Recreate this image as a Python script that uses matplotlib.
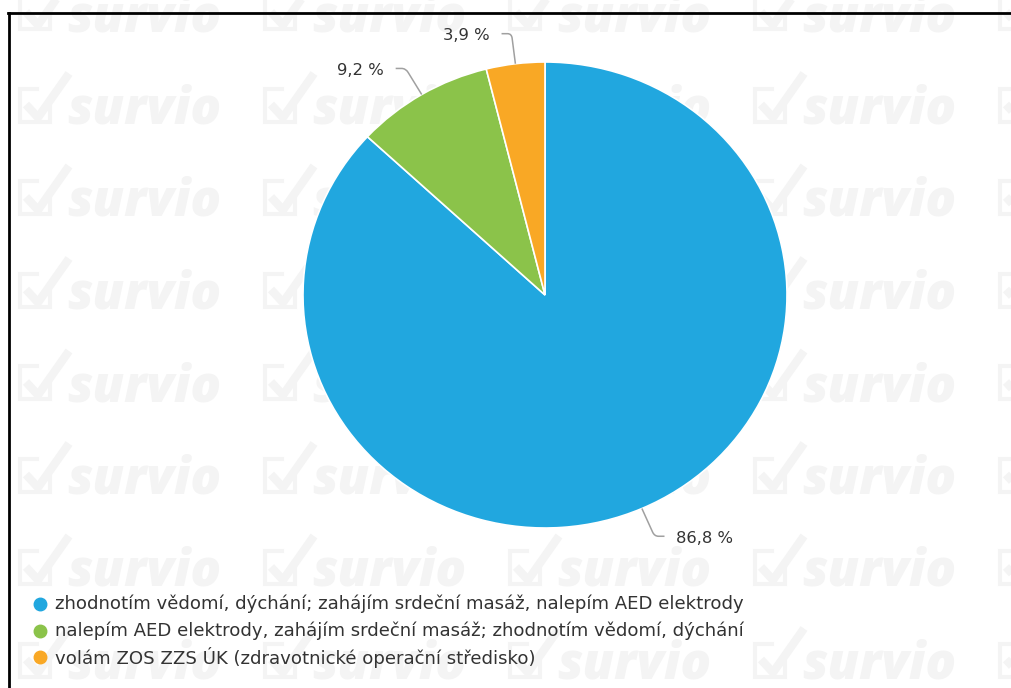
import matplotlib
matplotlib.use("Agg")
import numpy as np
import matplotlib.pyplot as plt
from matplotlib.path import Path
from matplotlib.patches import PathPatch
from matplotlib.lines import Line2D

# Survey answers and their shares (%)
categories = [
    "zhodnotím vědomí, dýchání; zahájím srdeční masáž, nalepím AED elektrody",
    "nalepím AED elektrody, zahájím srdeční masáž; zhodnotím vědomí, dýchání",
    "volám ZOS ZZS ÚK (zdravotnické operační středisko)",
]
shares = [86.8, 9.2, 3.9]
colors = ["#21a7df", "#8bc34a", "#f9a825"]

W, H = 1011, 688
fig = plt.figure(figsize=(W / 100, H / 100), dpi=100)
fig.patch.set_facecolor("white")


def fx(x):
    return x / W


def fy(y):
    return 1 - y / H


# Tiled "survio" watermark behind everything
wm = "#f4f4f4"
for row in range(8):
    base = 31 + 92.5 * row
    for col in range(5):
        x0 = 67 + 245 * col
        fig.text(fx(x0), fy(base), "survio", fontsize=36.5, fontstyle="italic",
                 fontweight="heavy", family="Open Sans", color=wm,
                 ha="left", va="baseline", zorder=-5)
        box_x = [x0 - 30, x0 - 47, x0 - 47, x0 - 17, x0 - 17]
        box_y = [base - 35, base - 35, base - 2, base - 2, base - 18]
        fig.add_artist(Line2D([fx(v) for v in box_x], [fy(v) for v in box_y],
                              color=wm, lw=3, transform=fig.transFigure,
                              zorder=-5, solid_joinstyle="miter"))
        chk_x = [x0 - 41, x0 - 29, x0 + 2]
        chk_y = [base - 19, base - 6, base - 50]
        fig.add_artist(Line2D([fx(v) for v in chk_x], [fy(v) for v in chk_y],
                              color=wm, lw=6, transform=fig.transFigure,
                              zorder=-5, solid_capstyle="butt"))

# Frame lines (top and left)
fig.add_artist(Line2D([fx(8), 1], [fy(12.5), fy(12.5)], color="black", lw=2,
                      transform=fig.transFigure))
fig.add_artist(Line2D([fx(8.5), fx(8.5)], [0, fy(12.5)], color="black", lw=2,
                      transform=fig.transFigure))

# Pie
left, right, top, bottom = 303, 787, 62, 528
ax = fig.add_axes([fx(left), fy(bottom), (right - left) / W, (bottom - top) / H])
ax.patch.set_visible(False)
wedges, _ = ax.pie(shares, colors=colors, startangle=90, counterclock=False,
                   wedgeprops=dict(edgecolor="white", linewidth=1.2))
ax.set_aspect("auto")
ax.set_xlim(-1, 1)
ax.set_ylim(-1, 1)
ax.axis("off")

# Data labels with curved connectors
px_x = (right - left) / 2.0
for w, v in zip(wedges, shares):
    mid = np.deg2rad((w.theta1 + w.theta2) / 2.0)
    c, s = np.cos(mid), np.sin(mid)
    sign = 1 if c >= 0 else -1
    p0 = (c, s)
    p1 = (1.13 * c, 1.13 * s)
    pa = (c + 0.85 * (p1[0] - c), s + 0.85 * (p1[1] - s))
    pb = (p1[0] + sign * 4 / px_x, p1[1])
    p2 = (p1[0] + sign * 10 / px_x, p1[1])
    path = Path([p0, pa, p1, pb, p2],
                [Path.MOVETO, Path.LINETO, Path.CURVE3, Path.CURVE3, Path.LINETO])
    ax.add_patch(PathPatch(path, fill=False, edgecolor="#a0a0a0", lw=1.1,
                           clip_on=False))
    label = f"{v:.1f} %".replace(".", ",")
    ax.annotate(label, xy=p2, xytext=(sign * 12, -2), textcoords="offset pixels",
                ha="left" if sign > 0 else "right", va="center",
                fontsize=11.8, color="#333333", annotation_clip=False)

# Legend
for i, (cat, col) in enumerate(zip(categories, colors)):
    y = 604 + 26.5 * i
    fig.add_artist(Line2D([fx(40)], [fy(y)], marker="o", ms=9, color=col,
                          lw=0, transform=fig.transFigure))
    fig.text(fx(55), fy(y), cat, fontsize=13.1, color="#333333",
             ha="left", va="center")

fig.savefig("out.png", dpi=100, facecolor="white")
